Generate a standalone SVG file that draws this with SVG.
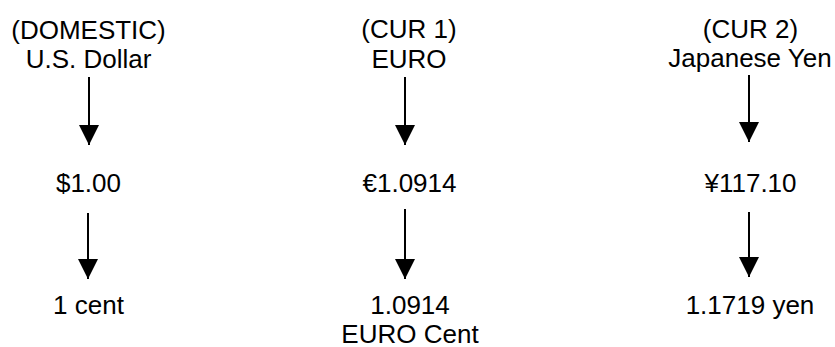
<svg xmlns="http://www.w3.org/2000/svg" width="835" height="347" viewBox="0 0 835 347">
<defs>
<marker id="ah" markerUnits="userSpaceOnUse" viewBox="0 0 20 20" refX="20" refY="10" markerWidth="20" markerHeight="20" orient="auto">
<path d="M0,0 L20,10 L0,20 Z" fill="#000"/>
</marker>
<style>
text{font-family:"Liberation Sans",Arial,sans-serif;font-size:26px;fill:#000;text-anchor:middle}
.c line{stroke:#000;stroke-width:2;marker-end:url(#ah)}
</style>
</defs>
<rect width="835" height="347" fill="#fff"/>
<g id="usd-head"><text x="88.5" y="39">(DOMESTIC)</text><text x="88.5" y="68">U.S. Dollar</text></g>
<g id="usd-amount"><text x="88.5" y="192">$1.00</text></g>
<g id="usd-unit"><text x="88.5" y="314">1 cent</text></g>
<g id="eur-head"><text x="409" y="38">(CUR 1)</text><text x="409" y="68">EURO</text></g>
<g id="eur-amount"><text x="409.5" y="192">€1.0914</text></g>
<g id="eur-unit"><text x="410" y="314">1.0914</text><text x="410" y="343">EURO Cent</text></g>
<g id="jpy-head"><text x="750.5" y="38">(CUR 2)</text><text x="750" y="67">Japanese Yen</text></g>
<g id="jpy-amount"><text x="750.5" y="192">¥117.10</text></g>
<g id="jpy-unit"><text x="750" y="314">1.1719 yen</text></g>
<g id="connectors" class="c">
<line x1="89" y1="77" x2="89" y2="145"/>
<line x1="88" y1="213" x2="88" y2="279"/>
<line x1="405" y1="77" x2="405" y2="145"/>
<line x1="405" y1="209" x2="405" y2="279"/>
<line x1="749" y1="75" x2="749" y2="142"/>
<line x1="749" y1="212" x2="749" y2="277"/>
</g>
</svg>
